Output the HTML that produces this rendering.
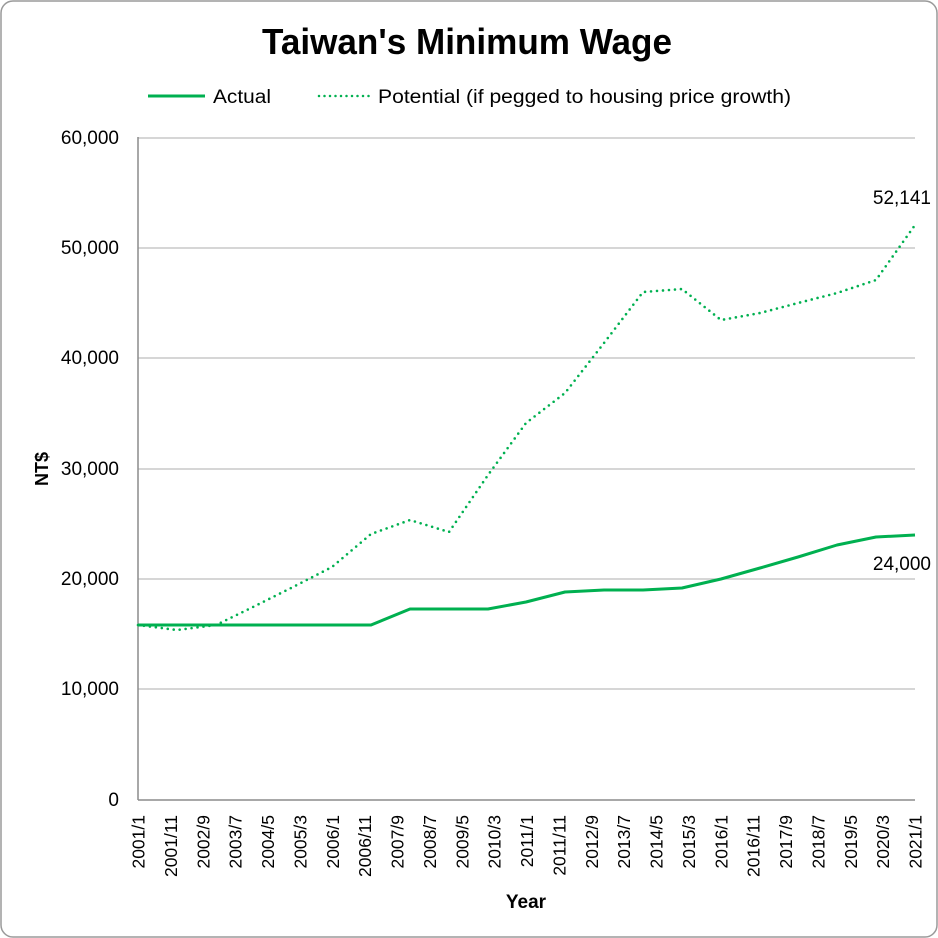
<!DOCTYPE html>
<html><head><meta charset="utf-8"><style>html,body{margin:0;padding:0;background:#fff}svg{display:block}</style></head>
<body>
<svg width="938" height="938" viewBox="0 0 938 938" xmlns="http://www.w3.org/2000/svg" font-family="'Liberation Sans', sans-serif">
<rect x="1" y="1" width="936" height="936" rx="12" fill="#fff" stroke="#9a9a9a" stroke-width="1.5"/>
<text x="467" y="54" font-size="36" font-weight="bold" text-anchor="middle" textLength="410" lengthAdjust="spacingAndGlyphs">Taiwan's Minimum Wage</text>
<line x1="148" y1="96" x2="205" y2="96" stroke="#00b050" stroke-width="3"/>
<text x="213" y="103" font-size="19" textLength="58" lengthAdjust="spacingAndGlyphs">Actual</text>
<line x1="319" y1="96" x2="369" y2="96" stroke="#00b050" stroke-width="2.5" stroke-dasharray="0,5.5" stroke-linecap="round"/>
<text x="378" y="103" font-size="19" textLength="413" lengthAdjust="spacingAndGlyphs">Potential (if pegged to housing price growth)</text>
<g stroke="#bdbdbd" stroke-width="1.2">
<line x1="138" y1="138" x2="915" y2="138"/><line x1="138" y1="248" x2="915" y2="248"/>
<line x1="138" y1="358" x2="915" y2="358"/><line x1="138" y1="469" x2="915" y2="469"/>
<line x1="138" y1="579" x2="915" y2="579"/><line x1="138" y1="689" x2="915" y2="689"/>
</g>
<line x1="138" y1="137" x2="138" y2="800" stroke="#8c8c8c" stroke-width="1.5"/>
<line x1="138" y1="800" x2="915" y2="800" stroke="#8c8c8c" stroke-width="1.5"/>
<g font-size="19" text-anchor="end" fill="#000">
<text x="119" y="144">60,000</text><text x="119" y="254">50,000</text><text x="119" y="364">40,000</text>
<text x="119" y="475">30,000</text><text x="119" y="585">20,000</text><text x="119" y="695">10,000</text><text x="119" y="806">0</text>
</g>
<text transform="translate(48,469) rotate(-90)" font-size="18" font-weight="bold" text-anchor="middle">NT$</text>
<text x="526" y="908" font-size="19" font-weight="bold" text-anchor="middle">Year</text>
<g font-size="17.5" text-anchor="end">
<text transform="translate(144.5,815) rotate(-90)">2001/1</text>
<text transform="translate(176.9,815) rotate(-90)">2001/11</text>
<text transform="translate(209.3,815) rotate(-90)">2002/9</text>
<text transform="translate(241.6,815) rotate(-90)">2003/7</text>
<text transform="translate(274.0,815) rotate(-90)">2004/5</text>
<text transform="translate(306.4,815) rotate(-90)">2005/3</text>
<text transform="translate(338.8,815) rotate(-90)">2006/1</text>
<text transform="translate(371.1,815) rotate(-90)">2006/11</text>
<text transform="translate(403.5,815) rotate(-90)">2007/9</text>
<text transform="translate(435.9,815) rotate(-90)">2008/7</text>
<text transform="translate(468.3,815) rotate(-90)">2009/5</text>
<text transform="translate(500.6,815) rotate(-90)">2010/3</text>
<text transform="translate(533.0,815) rotate(-90)">2011/1</text>
<text transform="translate(565.4,815) rotate(-90)">2011/11</text>
<text transform="translate(597.8,815) rotate(-90)">2012/9</text>
<text transform="translate(630.1,815) rotate(-90)">2013/7</text>
<text transform="translate(662.5,815) rotate(-90)">2014/5</text>
<text transform="translate(694.9,815) rotate(-90)">2015/3</text>
<text transform="translate(727.3,815) rotate(-90)">2016/1</text>
<text transform="translate(759.6,815) rotate(-90)">2016/11</text>
<text transform="translate(792.0,815) rotate(-90)">2017/9</text>
<text transform="translate(824.4,815) rotate(-90)">2018/7</text>
<text transform="translate(856.8,815) rotate(-90)">2019/5</text>
<text transform="translate(889.1,815) rotate(-90)">2020/3</text>
<text transform="translate(921.5,815) rotate(-90)">2021/1</text>
</g>
<polyline fill="none" stroke="#00b050" stroke-width="3" stroke-linejoin="round"
points="138,625 177,625 216,625 255,625 293,625 332,625 371,625 410,609 449,609 488,609 526,602 565,592 604,590 643,590 682,588 721,579 760,568 798,557 837,545 876,537 915,535"/>
<polyline fill="none" stroke="#00b050" stroke-width="2.6" stroke-dasharray="0,6" stroke-linecap="round" stroke-linejoin="round"
points="138,625 177,630 216,625 255,606 293,587 332,567 371,534 410,520 449,532 488,475 526,423 565,393 604,343 643,292 682,289 721,320 760,313 798,303 837,293 876,280 915,225"/>
<text x="931" y="204" font-size="19" text-anchor="end">52,141</text>
<text x="931" y="570" font-size="19" text-anchor="end">24,000</text>
</svg>
</body></html>
